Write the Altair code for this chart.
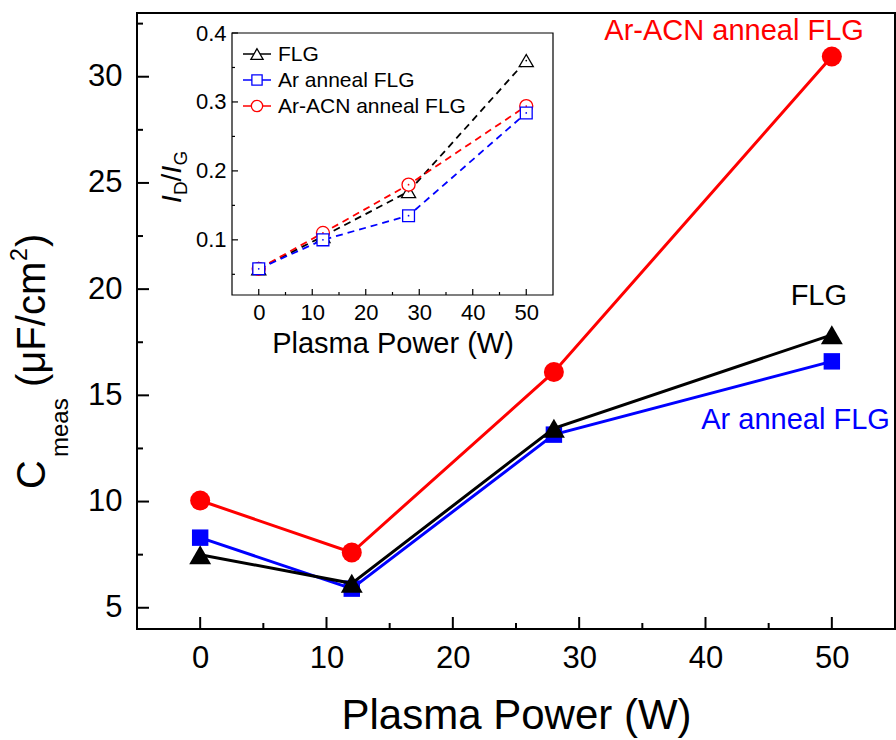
import altair as alt
import pandas as pd

# ---------------- data ----------------
power = [0, 12, 28, 50]
names = ["FLG", "Ar anneal FLG", "Ar-ACN anneal FLG"]
colors = ["#000000", "#0000ff", "#ff0000"]
shapes = ["triangle-up", "square", "circle"]

cmeas_flg = [7.5, 6.15, 13.45, 17.85]
cmeas_ar = [8.3, 5.9, 13.15, 16.6]
cmeas_acn = [10.05, 7.6, 16.1, 30.95]

idig_flg = [0.058, 0.105, 0.170, 0.360]
idig_ar = [0.058, 0.100, 0.135, 0.284]
idig_acn = [0.058, 0.110, 0.180, 0.294]

x_tick_labels = [0, 10, 20, 30, 40, 50]
x_minor = [5, 15, 25, 35, 45]
y_tick_labels = [5, 10, 15, 20, 25, 30]
y_minor = [7.5, 12.5, 17.5, 22.5, 27.5, 32.5]
inset_y_tick_labels = [0.1, 0.2, 0.3, 0.4]
inset_y_minor = [0.05, 0.15, 0.25, 0.35]

# ---------------- layout ----------------
FONT = "Liberation Sans"
W, H = 758, 616
IN_X0, IN_X1, IN_Y0, IN_Y1 = 95, 416, 20, 282  # inset plot box inside main plot

xs_main = alt.Scale(domain=[-5, 55], nice=False, zero=False)
ys_main = alt.Scale(domain=[4, 33], nice=False, zero=False)
xs_in = alt.Scale(domain=[-5, 55], range=[IN_X0, IN_X1], nice=False, zero=False)
ys_in = alt.Scale(domain=[0.02, 0.4], range=[IN_Y1, IN_Y0], nice=False, zero=False)

common = dict(grid=False, labelFont=FONT, titleFont=FONT, labelColor="black",
              titleColor="black", titleFontWeight="normal", labelFlush=False,
              labelOverlap=False, ticks=False, domain=False)

ax_x_lab = alt.Axis(orient="bottom", values=x_tick_labels, labelFontSize=31, labelPadding=14,
                    title="Plasma Power (W)", titleFontSize=42, titlePadding=22, **common)
ax_y_lab = alt.Axis(orient="left", values=y_tick_labels, labelFontSize=31, labelPadding=15,
                    title=None, **common)
in_x_lab = alt.Axis(orient="bottom", offset=-(H - IN_Y1), values=x_tick_labels, labelFontSize=22,
                    labelPadding=7, title="Plasma Power (W)", titleFontSize=29, titlePadding=6, **common)
in_y_lab = alt.Axis(orient="left", offset=-IN_X0, values=inset_y_tick_labels, labelFontSize=22,
                    labelPadding=6, title=None, **common)


def x_ticks(vals, scale, y_base, length, width):
    return alt.Chart(pd.DataFrame({"v": vals})).mark_rule(color="black", strokeWidth=width).encode(
        x=alt.X("v:Q", scale=scale, axis=None), y=alt.value(y_base - length), y2=alt.value(y_base))


def y_ticks(vals, scale, x_base, length, width):
    return alt.Chart(pd.DataFrame({"v": vals})).mark_rule(color="black", strokeWidth=width).encode(
        y=alt.Y("v:Q", scale=scale, axis=None), x=alt.value(x_base), x2=alt.value(x_base + length))


main_vals = {"FLG": cmeas_flg, "Ar anneal FLG": cmeas_ar, "Ar-ACN anneal FLG": cmeas_acn}
inset_vals = {"FLG": idig_flg, "Ar anneal FLG": idig_ar, "Ar-ACN anneal FLG": idig_acn}
main_sizes = {"triangle-up": 480, "square": 270, "circle": 400}
inset_sizes = {"triangle-up": 200, "square": 140, "circle": 170}

# ---------------- main plot ----------------
main_layers = []
first = True
for i in [1, 0, 2]:  # blue, black, red on top
    name, col, shp = names[i], colors[i], shapes[i]
    df = pd.DataFrame({"power": power, "value": main_vals[name]})
    base = alt.Chart(df)
    lx = ax_x_lab if first else None
    ly = ax_y_lab if first else None
    main_layers.append(base.mark_line(color=col, strokeWidth=3).encode(
        x=alt.X("power:Q", scale=xs_main, axis=lx), y=alt.Y("value:Q", scale=ys_main, axis=ly)))
    if first:
        main_layers += [
            x_ticks(x_tick_labels, xs_main, H, 12, 2),
            x_ticks(x_minor, xs_main, H, 6, 2),
            y_ticks(y_tick_labels, ys_main, 0, 12, 2),
            y_ticks(y_minor, ys_main, 0, 6, 2),
        ]
        first = False
    main_layers.append(base.mark_point(shape=shp, filled=True, color=col, opacity=1,
                                       size=main_sizes[shp]).encode(
        x=alt.X("power:Q", scale=xs_main, axis=None), y=alt.Y("value:Q", scale=ys_main, axis=None)))

# annotations anchored at each series' last point
ann_style = {
    "Ar-ACN anneal FLG": dict(align="right", dx=32, dy=-17),
    "FLG": dict(align="center", dx=-13, dy=-30),
    "Ar anneal FLG": dict(align="right", dx=58, dy=68),
}
for i, name in enumerate(names):
    df = pd.DataFrame({"power": [power[-1]], "value": [main_vals[name][-1]], "label": [name]})
    main_layers.append(
        alt.Chart(df).mark_text(font=FONT, fontSize=29, color=colors[i], baseline="alphabetic",
                                **ann_style[name]).encode(
            x=alt.X("power:Q", scale=xs_main, axis=None),
            y=alt.Y("value:Q", scale=ys_main, axis=None),
            text="label:N")
    )

# composite y-axis title: C_meas (μF/cm^2)
ytitle_parts = [
    ("C", 40, -92, 476),
    ("meas", 24, -69, 444),
    ("(μF/cm", 40, -92, 374),
    ("2", 23, -110, 248),
    (")", 40, -92, 234),
]
for txt, fs, px, py in ytitle_parts:
    main_layers.append(
        alt.Chart(pd.DataFrame({"t": [txt]})).mark_text(
            font=FONT, fontSize=fs, angle=270, align="left", baseline="alphabetic", color="black"
        ).encode(text="t:N", x=alt.value(px), y=alt.value(py))
    )

main = alt.layer(*main_layers).resolve_axis(x="independent", y="independent")

# ---------------- inset ----------------
inset_layers = []
first = True
for i in [0, 2, 1]:
    name, col, shp = names[i], colors[i], shapes[i]
    df = pd.DataFrame({"power": power, "value": inset_vals[name]})
    base = alt.Chart(df)
    lx = in_x_lab if first else None
    ly = in_y_lab if first else None
    inset_layers.append(base.mark_line(color=col, strokeWidth=1.8, strokeDash=[7, 5]).encode(
        x=alt.X("power:Q", scale=xs_in, axis=lx), y=alt.Y("value:Q", scale=ys_in, axis=ly)))
    if first:
        inset_layers += [
            alt.Chart(pd.DataFrame({"a": [0]})).mark_rect(fill="white", fillOpacity=0, stroke="black",
                                                          strokeWidth=1.2).encode(
                x=alt.value(IN_X0), x2=alt.value(IN_X1), y=alt.value(IN_Y0), y2=alt.value(IN_Y1)),
            x_ticks(x_tick_labels, xs_in, IN_Y1, 6, 1.2),
            x_ticks(x_minor, xs_in, IN_Y1, 3, 1.2),
            y_ticks(inset_y_tick_labels, ys_in, IN_X0, 6, 1.2),
            y_ticks(inset_y_minor, ys_in, IN_X0, 3, 1.2),
        ]
        first = False
    inset_layers.append(base.mark_point(shape=shp, filled=True, fill="white", stroke=col, strokeWidth=1.3,
                                        opacity=1, size=inset_sizes[shp]).encode(
        x=alt.X("power:Q", scale=xs_in, axis=None), y=alt.Y("value:Q", scale=ys_in, axis=None)))
    inset_layers.append(base.mark_point(shape="circle", filled=True, color=col, size=3, opacity=1).encode(
        x=alt.X("power:Q", scale=xs_in, axis=None), y=alt.Y("value:Q", scale=ys_in, axis=None)))

# inset legend
LEG_Y0, LEG_DY = 41, 26
for k, i in enumerate([0, 1, 2]):
    yy = LEG_Y0 + k * LEG_DY
    shp = shapes[i]
    inset_layers.append(
        alt.Chart(pd.DataFrame({"a": [0]})).mark_rule(color=colors[i], strokeWidth=1.5).encode(
            x=alt.value(IN_X0 + 11), x2=alt.value(IN_X0 + 39), y=alt.value(yy))
    )
    inset_layers.append(
        alt.Chart(pd.DataFrame({"a": [0]})).mark_point(shape=shp, filled=True, fill="white", stroke=colors[i],
                                                        strokeWidth=1.3, opacity=1,
                                                        size=inset_sizes[shp] * 0.75).encode(
            x=alt.value(IN_X0 + 25), y=alt.value(yy))
    )
    inset_layers.append(
        alt.Chart(pd.DataFrame({"t": [names[i]]})).mark_text(font=FONT, fontSize=21, align="left",
                                                             baseline="middle", color="black").encode(
            text="t:N", x=alt.value(IN_X0 + 46), y=alt.value(yy + 1))
    )

# inset y title: I_D / I_G
ititle_parts = [
    ("I", 28, "italic", 44, 190),
    ("D", 19, "normal", 50, 182),
    ("/", 28, "normal", 44, 168.5),
    ("I", 28, "italic", 44, 160.5),
    ("G", 19, "normal", 50, 152.5),
]
for txt, fs, st, px, py in ititle_parts:
    inset_layers.append(
        alt.Chart(pd.DataFrame({"t": [txt]})).mark_text(
            font=FONT, fontSize=fs, fontStyle=st, angle=270, align="left", baseline="alphabetic",
            color="black"
        ).encode(text="t:N", x=alt.value(px), y=alt.value(py))
    )

inset = alt.layer(*inset_layers).resolve_axis(x="independent", y="independent")

chart = alt.layer(main, inset).resolve_scale(x="independent", y="independent").properties(
    width=W, height=H,
    autosize=alt.AutoSizeParams(type="none"),
    padding={"left": 137, "top": 13, "right": 1, "bottom": 111},
    background="white",
).configure_view(stroke="black", strokeWidth=2)

chart.save("out.html", embed_options={"renderer": "svg", "actions": False})
